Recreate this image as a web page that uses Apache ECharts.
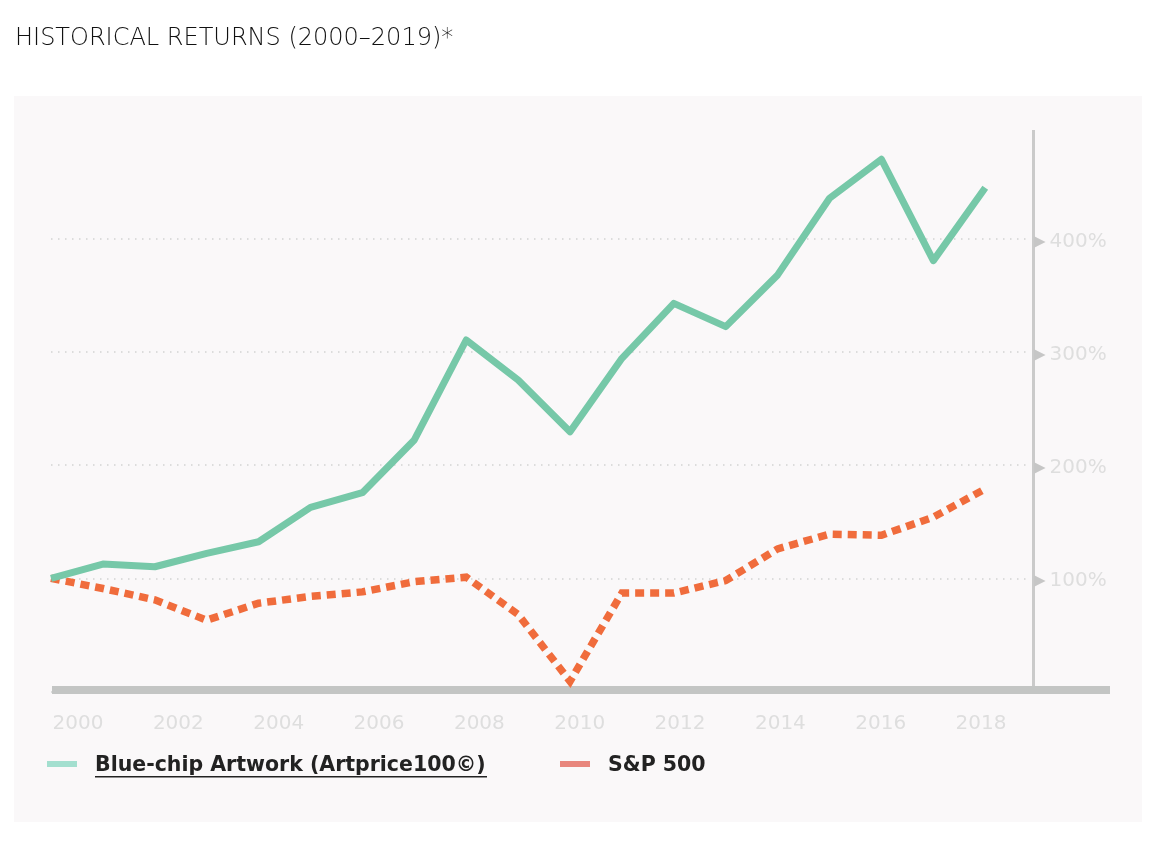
<!DOCTYPE html>
<html><head><meta charset="utf-8">
<script src="https://cdn.jsdelivr.net/npm/echarts@6/dist/echarts.min.js"></script>
<style>html,body{margin:0;padding:0;background:#fff}#c{width:1154px;height:844px}</style>
</head><body><div id="c"></div>
<script>
const years = [2000,2001,2002,2003,2004,2005,2006,2007,2008,2009,2010,2011,2012,2013,2014,2015,2016,2017,2018];
const artwork = [100,112.6,110.2,122,132.3,162.7,175.6,222.2,310.5,275.2,229.5,294.3,342.9,322.3,368,435.7,470.1,380.6,445];
const sp500 = [100,91,81,63,78,84,88,97,101,68,9,87,87,98,126,139,138,154,179];
const yTicks = [100,200,300,400];
const xTickLabels = [2000,2002,2004,2006,2008,2010,2012,2014,2016,2018];
const seriesNames = ['Blue-chip Artwork (Artprice100©)', 'S&P 500'];
const titleText = 'HISTORICAL RETURNS (2000–2019)*';

const chart = echarts.init(document.getElementById('c'), null, {renderer:'canvas'});
const F = 'DejaVu Sans';
const option = {
  animation:false,
  backgroundColor:'#ffffff',
  title:{text:titleText,left:10,top:22,textStyle:{fontFamily:F,fontSize:24,fontWeight:300,color:'#111111'}},
  graphic:[
    {type:'rect',z:-10,silent:true,shape:{x:14,y:96,width:1128,height:726},style:{fill:'#faf8f9'}},
    {type:'rect',shape:{x:47,y:761,width:30,height:6},style:{fill:'#a3dfcf'}},
    {type:'text',left:95,top:755,style:{text:seriesNames[0],font:'bold 20.5px "DejaVu Sans"',fill:'#222'}},
    {type:'rect',shape:{x:95,y:776,width:392,height:1.5},style:{fill:'#222'}},
    {type:'rect',shape:{x:560,y:761,width:30,height:6},style:{fill:'#e8867d'}},
    {type:'text',left:608,top:755,style:{text:seriesNames[1],font:'bold 20.5px "DejaVu Sans"',fill:'#222'}}
  ],
  grid:[
    {left:51,right:121,top:130,bottom:152.5},
    {left:52,right:44,top:130,bottom:154},
    {left:51,right:124,top:238.7,bottom:152.5}
  ],
  xAxis:[
    {gridIndex:0,type:'value',min:2000,max:2018.92,show:false},
    {gridIndex:1,type:'value',min:1999.482,max:2020.57,splitLine:{show:false},
     axisLine:{show:true,lineStyle:{color:'#c3c5c4',width:8,cap:'butt'}},axisTick:{show:false},
     axisLabel:{customValues:xTickLabels,formatter:v=>String(v),margin:24,fontFamily:F,fontSize:20,color:'#dedede'}},
    {gridIndex:2,type:'value',min:2000,max:2018.92,show:false}
  ],
  yAxis:[
    {gridIndex:0,type:'value',position:'right',min:0,max:496,
     axisLine:{show:true,lineStyle:{color:'#cacaca',width:3,cap:'butt'}},axisTick:{show:false},splitLine:{show:false},
     axisLabel:{customValues:yTicks,margin:1,formatter:v=>'{t|▶}{v|'+v+'%}',
       rich:{t:{fontSize:15,color:'#c6c6c6',fontFamily:F,padding:[6,4,0,0]},v:{fontSize:20,color:'#dedede',fontFamily:F,padding:[6,0,0,0]}}}},
    {gridIndex:1,type:'value',min:0,max:1,show:false},
    {gridIndex:2,type:'value',min:0,max:400,interval:100,axisLine:{show:false},axisTick:{show:false},axisLabel:{show:false},
     splitLine:{show:true,lineStyle:{color:'#d2d2d2',width:1.5,type:[1.5,5.5]}}}
  ],
  series:[
    {name:seriesNames[1],type:'line',xAxisIndex:0,yAxisIndex:0,showSymbol:false,z:3,
     data:years.map((y,i)=>[y,sp500[i]]),
     lineStyle:{color:'#f06c3c',width:7.5,type:[9,6],cap:'butt',join:'miter'}},
    {name:seriesNames[0],type:'line',xAxisIndex:0,yAxisIndex:0,showSymbol:false,z:4,
     data:years.map((y,i)=>[y,artwork[i]]),
     lineStyle:{color:'#76c8a8',width:7,cap:'butt',join:'round'}}
  ]
};
chart.setOption(option);
</script></body></html>
